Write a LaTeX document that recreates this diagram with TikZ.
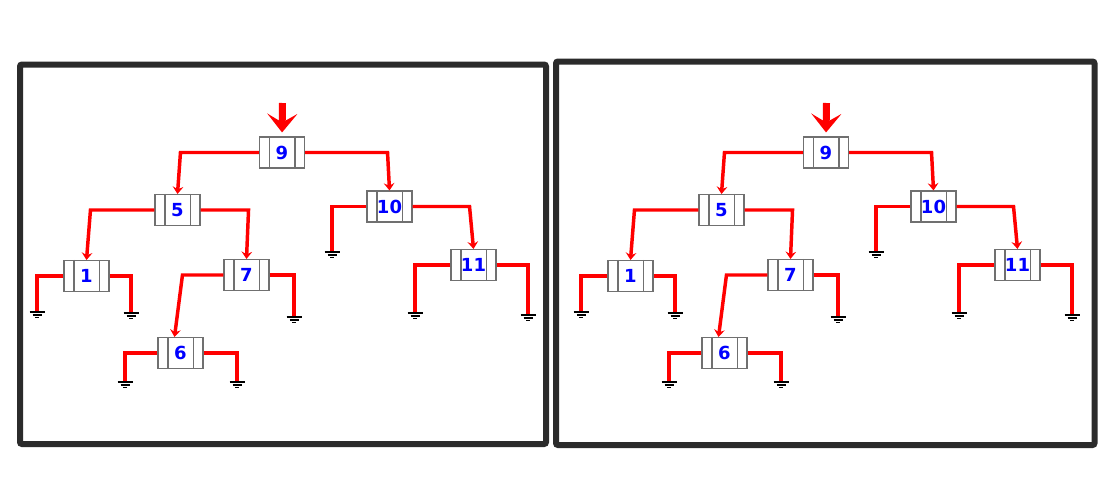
\documentclass[tikz,border=0pt]{standalone}
\usepackage{fontspec}
\setsansfont{DejaVu Sans}
\usetikzlibrary{arrows.meta,calc}
\definecolor{framegray}{HTML}{2B2B2B}
\definecolor{boxgray}{HTML}{707070}
\definecolor{digitblue}{HTML}{0000FF}
\tikzset{
  frame/.style={draw=framegray, line width=4.5pt, rounded corners=1.5pt},
  cell/.style={draw=boxgray, line width=0.8pt, minimum width=33.75pt, minimum height=23.25pt,
    inner sep=0pt, text=digitblue, font=\sffamily\bfseries\fontsize{13.5}{13.5}\selectfont},
  divider/.style={draw=boxgray, line width=0.8pt},
  link/.style={draw=red, line width=2.6pt, -{Stealth[length=5.5pt,width=8pt,inset=2pt]}},
  lead/.style={draw=red, line width=2.6pt},
  entry/.style={draw=red, line width=5.25pt, -{Stealth[length=14pt,width=22.5pt,inset=6.5pt]}, shorten >=3pt},
  earth/.pic={
    \draw[black, line width=0.9pt] (-7.5,0) -- (7.5,0) (-4.5,3) -- (4.5,3) (-2,5.5) -- (2,5.5);
  }
}
\newcommand\buildtree[1]{%
  \node[cell] (#1n9) at (282,152.5) {9};
  \node[cell] (#1n5) at (177.5,210) {5};
  \node[cell] (#1n10) at (389.5,206.5) {10};
  \node[cell] (#1n1) at (86.5,276) {1};
  \node[cell] (#1n7) at (246.5,275) {7};
  \node[cell] (#1n11) at (473.5,265) {11};
  \node[cell] (#1n6) at (180.5,353) {6};
  \foreach \n in {n9,n5,n10,n1,n7,n11,n6} {
    \draw[divider] ($(#1\n.north)+(-12.5,0)$) -- ($(#1\n.south)+(-12.5,0)$);
    \draw[divider] ($(#1\n.north)+(13,0)$) -- ($(#1\n.south)+(13,0)$);
  }
  \coordinate (#1in) at (282.5,103);
  \coordinate (#1g1a) at (37,312);
  \coordinate (#1g1b) at (131,313);
  \coordinate (#1g7) at (294,317);
  \coordinate (#1g6a) at (125,382);
  \coordinate (#1g6b) at (237,382);
  \coordinate (#1g10) at (332,252);
  \coordinate (#1g11a) at (415,313);
  \coordinate (#1g11b) at (528,315);
  \draw[entry] (#1in) -- (#1n9.north);
  \draw[link] (#1n9.west) -- ++(-78.5,0) -- (#1n5.north);
  \draw[link] (#1n9.east) -- ++(82.5,0) -- (#1n10.north);
  \draw[link] (#1n5.west) -- ++(-64,0) -- (#1n1.north);
  \draw[link] (#1n5.east) -- ++(48,0) -- (#1n7.north);
  \draw[link] (#1n7.west) -- ++(-41,0) -- ($(#1n6.north)+(-6,0)$);
  \draw[link] (#1n10.east) -- ++(57,0) -- (#1n11.north);
  \draw[lead] (#1n1.west) -| (#1g1a);
  \draw[lead] (#1n1.east) -| (#1g1b);
  \draw[lead] (#1n7.east) -| (#1g7);
  \draw[lead] (#1n6.west) -| (#1g6a);
  \draw[lead] (#1n6.east) -| (#1g6b);
  \draw[lead] (#1n10.west) -| (#1g10);
  \draw[lead] (#1n11.west) -| (#1g11a);
  \draw[lead] (#1n11.east) -| (#1g11b);
  \foreach \g in {g1a,g1b,g7,g6a,g6b,g10,g11a,g11b} {\pic at (#1\g) {earth};}
}
\begin{document}
\begin{tikzpicture}[x=0.75pt,y=-0.75pt]
  \useasboundingbox (0,0) rectangle (1115,490);
  \draw[frame] (20,64.5) rectangle (546,444);
  \draw[frame] (556,61.5) rectangle (1094.5,445);
  \buildtree{L}
  \begin{scope}[xshift=408pt]
    \buildtree{R}
  \end{scope}
\end{tikzpicture}
\end{document}
